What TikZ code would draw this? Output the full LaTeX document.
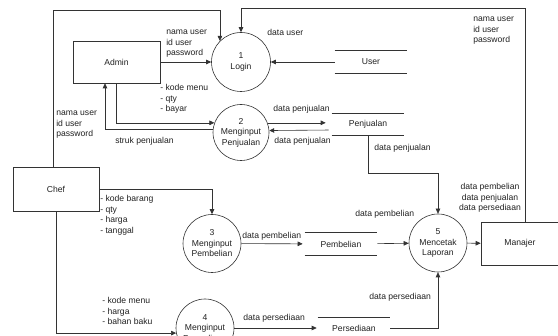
\documentclass[tikz,border=0pt]{standalone}
\usepackage{fontspec}
\setmainfont{Liberation Sans}
\usetikzlibrary{arrows.meta,calc,positioning}
\definecolor{linec}{HTML}{333333}
\definecolor{textc}{HTML}{222222}

\begin{document}
\begin{tikzpicture}[
  x=1pt, y=-1pt,
  every node/.style={font=\fontsize{8.6}{10.5}\selectfont, text=textc},
  process/.style={circle, draw=linec, minimum size=58pt, inner sep=0pt, align=center},
  entity/.style={rectangle, draw=linec, align=center},
  store/.style={rectangle, minimum width=72pt, inner sep=0pt},
  lbl/.style={anchor=west, align=left, inner sep=0pt},
  >={Triangle[length=5pt, width=4.5pt]},
  every path/.style={draw=linec, line width=0.6pt}
]
  \useasboundingbox[fill=white, draw=none] (0,0) rectangle (558,336);
  % Entities
  \node[entity, minimum width=87pt, minimum height=42pt] (admin) at (116.5,62) {Admin};
  \node[entity, minimum width=86pt, minimum height=44pt] (chef) at (56,189) {Chef};
  \node[entity, minimum width=78pt, minimum height=43pt] (manajer) at (520,243.5) {Manajer};
  % Processes
  \node[process, minimum size=59pt] (login) at (241,62) {1\\Login};
  \node[process, minimum size=56pt] (proc2) at (241,132.5) {2\\Menginput\\Penjualan};
  \node[process] (proc3) at (212,243.5) {3\\Menginput\\Pembelian};
  \node[process] (proc4) at (205,328) {4\\Menginput\\Persediaan};
  \node[process] (proc5) at (438,243) {5\\Mencetak\\Laporan};
  % Data stores
  \node[store, minimum height=22pt] (user) at (371,62) {User};
  \node[store, minimum height=21pt] (penjualan) at (368,124.5) {Penjualan};
  \node[store, minimum height=22pt] (pembelian) at (341,244) {Pembelian};
  \node[store, minimum height=20pt] (persediaan) at (354,328) {Persediaan};
  \foreach \s in {user,penjualan,pembelian,persediaan}
    \draw (\s.north west) -- (\s.north east) (\s.south west) -- (\s.south east);
  % Flows
  \draw[->] (admin) -- (login);
  \draw[->] ([xshift=-3pt]chef.north) |- ($(login.135)+(0,-31)$) -- (login.135);
  \draw[->] ([xshift=5pt]manajer.north) |- ($(login.north)+(0,-24)$) -- (login.north);
  \draw[->] (user) -- (login);
  \draw[->] (admin.south) |- (proc2.160);
  \draw[->] (proc2.173) -| ([xshift=-11.5pt]admin.south);
  \draw[->, shorten >=6pt] (proc2.20) -- (proc2.20 -| penjualan.west);
  \draw[->, shorten <=3pt] ($(penjualan.west)+(0,5.5)$) -- (proc2.4);
  \draw[->] (penjualan.south) |- ($(proc5.north)+(0,-40)$) -- (proc5.north);
  \draw[->] (chef.east) -| (proc3.north);
  \draw[->, shorten >=2pt] (proc3) -- (pembelian);
  \draw[->] (pembelian) -- (proc5);
  \draw[->] (chef.south) |- (proc4.190);
  \draw[->, shorten >=1pt] (proc4) -- (persediaan);
  \draw[->] (persediaan.east) -| (proc5.south);
  \draw[->] (proc5) -- (manajer);
  % Labels
  \node[lbl] (l1) at (166,44) {nama user\\id user\\password};
  \node[lbl] (l2) at (56,125) {nama user\\id user\\password};
  \node[lbl] (l3) at (473,31) {nama user\\id user\\password};
  \node[lbl] (l4) at (267,32) {data user};
  \node[lbl] (l5) at (160,99) {- kode menu\\- qty\\- bayar};
  \node[lbl] (l6) at (115,141) {struk penjualan};
  \node[lbl] (l7) at (273,109) {data penjualan};
  \node[lbl] (l8) at (274,141) {data penjualan};
  \node[lbl] (l9) at (374,148) {data penjualan};
  \node[lbl] (l10) at (100,215.5) {- kode barang\\- qty\\- harga\\- tanggal};
  \node[lbl] (l11) at (242,236) {data pembelian};
  \node[lbl] (l12) at (355,214) {data pembelian};
  \node[lbl] (l13) at (102,311) {- kode menu\\- harga\\- bahan baku};
  \node[lbl] (l14) at (243,318) {data persediaan};
  \node[lbl] (l15) at (369,297) {data persediaan};
  \node[align=center, inner sep=0pt] (l16) at (490,198) {data pembelian\\data penjualan\\data persediaan};
\end{tikzpicture}
\end{document}
